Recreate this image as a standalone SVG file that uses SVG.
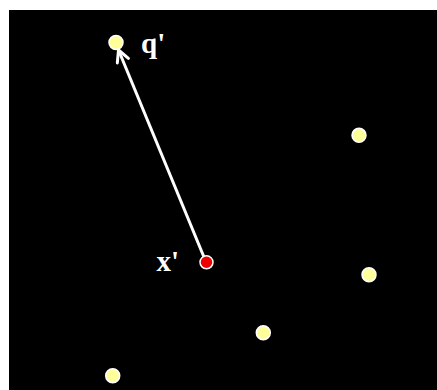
<svg xmlns="http://www.w3.org/2000/svg" width="437" height="390" viewBox="0 0 437 390">
<style>
.pt{fill:#ffff99;stroke:#ffffff;stroke-width:1.5}
.lbl{font-family:"Liberation Serif",serif;font-weight:bold;font-size:29px;fill:#ffffff}
.conn{stroke:#ffffff;stroke-width:3;fill:none}
</style>
<defs>
<marker id="ah" viewBox="0 0 16 16" refX="13.5" refY="8" markerWidth="16" markerHeight="16" markerUnits="userSpaceOnUse" orient="auto">
<path d="M2,2 L13.5,8 L2,14" fill="none" stroke="#ffffff" stroke-width="3" stroke-linecap="round" stroke-linejoin="round"/>
</marker>
</defs>
<rect x="0" y="0" width="437" height="390" fill="#ffffff"/>
<rect x="9" y="10" width="428" height="380" fill="#000000"/>
<g id="connectors">
<line class="conn" x1="206" y1="262" x2="118.5" y2="50" marker-end="url(#ah)"/>
</g>
<g id="q"><circle class="pt" cx="116" cy="42.5" r="7"/><text class="lbl" x="141" y="53">q'</text></g>
<g id="x"><circle cx="206.5" cy="262.3" r="6.5" fill="#ee0000" stroke="#ffffff" stroke-width="1.5"/><text class="lbl" x="156.5" y="271">x'</text></g>
<g id="p1"><circle class="pt" cx="359" cy="135.3" r="7"/></g>
<g id="p2"><circle class="pt" cx="369" cy="274.7" r="7"/></g>
<g id="p3"><circle class="pt" cx="263.3" cy="332.7" r="7"/></g>
<g id="p4"><circle class="pt" cx="112.7" cy="375.7" r="7"/></g>
</svg>
